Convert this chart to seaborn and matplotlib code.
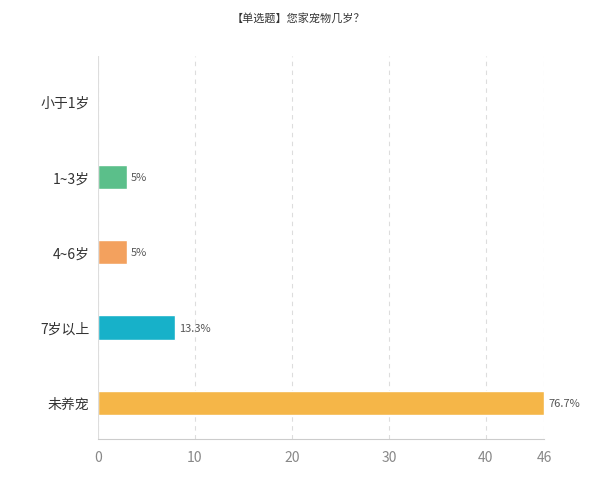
import matplotlib
matplotlib.use("Agg")
import matplotlib.pyplot as plt
import seaborn as sns
import pandas as pd

categories = ["小于1岁", "1~3岁", "4~6岁", "7岁以上", "未养宠"]
counts = [0, 3, 3, 8, 46]
labels = ["", "5%", "5%", "13.3%", "76.7%"]
colors = ["#5BBF8A", "#5BBF8A", "#F3A15E", "#17B1C9", "#F5B648"]
ticks = [0, 10, 20, 30, 40, 46]

sns.set_style("white")
plt.rcParams['font.family'] = ['Noto Sans CJK SC', 'DejaVu Sans']

fig = plt.figure(figsize=(5.96, 4.89), dpi=100)
ax = fig.add_axes([0.164, 0.10, 0.749, 0.783])
df = pd.DataFrame({"cat": categories, "val": counts})
sns.barplot(data=df, x="val", y="cat", hue="cat", palette=colors, legend=False,
            width=0.32, ax=ax, orient="h", saturation=1)
ax.set_xlim(0, 46)
ax.set_xticks(ticks)
ax.set_ylim(4.48, -0.6)
ax.grid(axis="x", color="#dddddd", linestyle=(0, (4, 4)), linewidth=0.8)
ax.set_axisbelow(True)
for s in ["top", "right", "left"]:
    ax.spines[s].set_visible(False)
ax.spines["bottom"].set_color("#cccccc")
ax.axvline(0, color="#dddddd", linewidth=0.8)
ax.tick_params(axis="x", colors="#888888", labelsize=10, length=0, pad=8)
ax.tick_params(axis="y", colors="#333333", labelsize=10, length=0, pad=6)
ax.set_xlabel("")
ax.set_ylabel("")
for i, (v, l) in enumerate(zip(counts, labels)):
    if l:
        ax.text(v + 0.4, i, l, va="center", ha="left", fontsize=8, color="#555555")
fig.text(0.5, 0.963, "【单选题】您家宠物几岁？", ha="center", va="center", fontsize=8, color="#333333")
fig.savefig("out.png", dpi=100)
